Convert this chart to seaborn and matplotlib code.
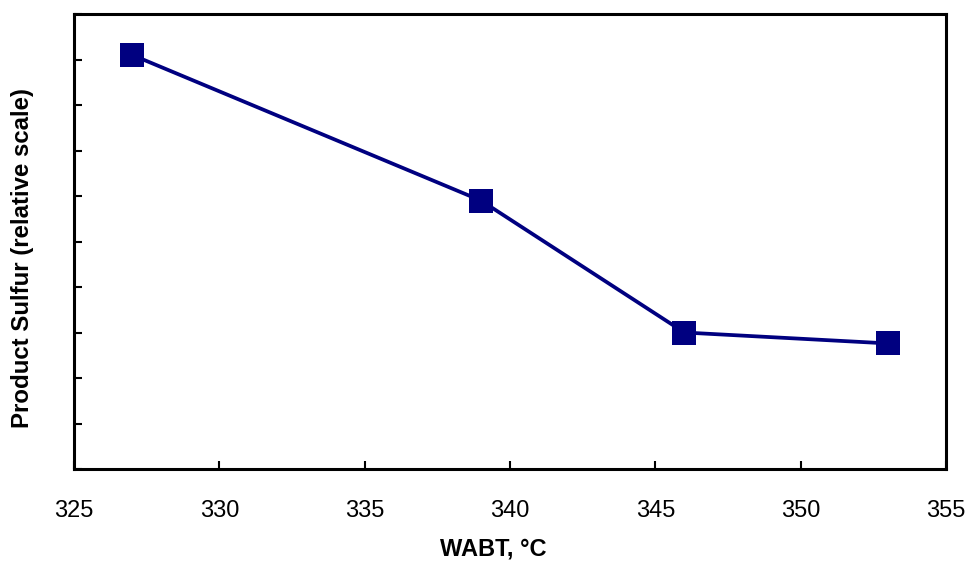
import matplotlib
matplotlib.use("Agg")
import matplotlib.pyplot as plt
import seaborn as sns
import pandas as pd

# Weighted average bed temperature vs. product sulfur (relative units)
wabt = [327, 339, 346, 353]
sulfur = [9.1, 5.9, 3.0, 2.76]

x_ticks = [325, 330, 335, 340, 345, 350, 355]
y_ticks = list(range(0, 11))

df = pd.DataFrame({"WABT": wabt, "Sulfur": sulfur})

sns.set_theme(style="white")
plt.rcParams["font.family"] = ["Liberation Sans", "DejaVu Sans"]
plt.rcParams["text.color"] = "black"
plt.rcParams["axes.labelcolor"] = "black"

fig = plt.figure(figsize=(9.67, 5.61), dpi=100)
ax = fig.add_axes([74 / 967, 1 - 469 / 561, (946 - 74) / 967, (469 - 14) / 561])

sns.lineplot(data=df, x="WABT", y="Sulfur", ax=ax, color="#000080",
             linewidth=2.7, marker="s", markersize=17, markeredgewidth=0,
             markeredgecolor="#000080")

ax.set_xlim(325, 355)
ax.set_ylim(0, 10)
ax.set_xticks(x_ticks)
ax.set_yticks(y_ticks)
ax.set_yticklabels([])

ax.tick_params(axis="x", direction="in", length=6, width=1.5, pad=22,
               labelsize=17, bottom=True, top=False, colors="black",
               labelcolor="black")
ax.tick_params(axis="y", direction="in", length=6, width=1.5,
               left=True, right=False, colors="black")

for s in ax.spines.values():
    s.set_visible(True)
    s.set_color("black")
    s.set_linewidth(2.2)

ax.set_xlabel("WABT, °C", fontsize=17, fontweight="bold", color="black")
ax.set_ylabel("Product Sulfur (relative scale)", fontsize=17.3,
              fontweight="bold", color="black")
ax.xaxis.set_label_coords(0.4805, -0.1516)
ax.yaxis.set_label_coords(-0.0459, 0.4637)

fig.savefig("out.png", dpi=100)
